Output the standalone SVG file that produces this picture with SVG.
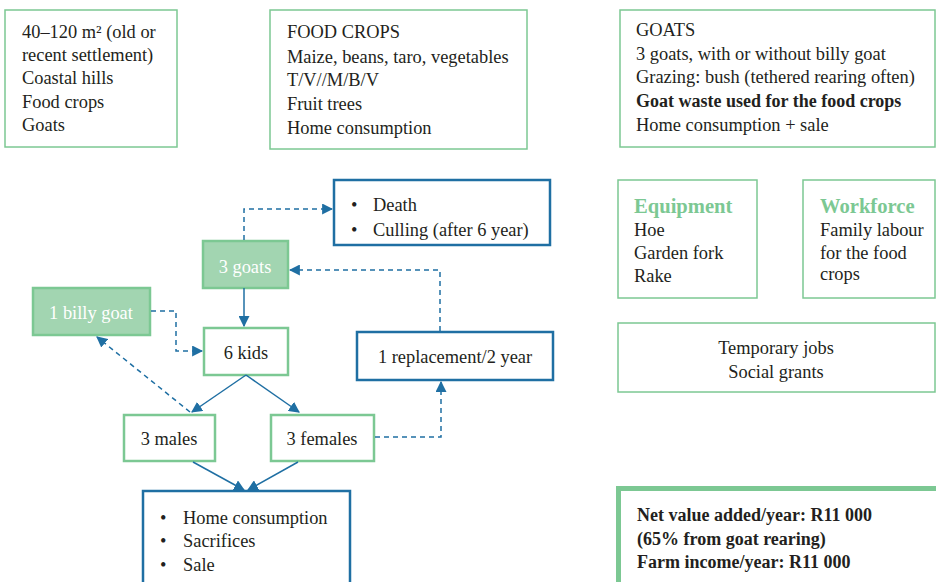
<svg xmlns="http://www.w3.org/2000/svg" width="936" height="582" viewBox="0 0 936 582">
<defs>
<style>
text{font-family:"Liberation Serif","Times New Roman",serif;font-size:18.4px;fill:#231f20}
.g{fill:#fff;stroke:#7cc893;stroke-width:1.5}
.gf{fill:#a2d5b1;stroke:#7cc893;stroke-width:2.5}
.gn{fill:#fff;stroke:#7cc893;stroke-width:2.5}
.b{fill:#fff;stroke:#1f6fa3;stroke-width:2.5}
.w{fill:#fff}
.c{text-anchor:middle}
.bd{font-weight:bold;font-size:18px}
.hd{font-weight:bold;fill:#7cc893;font-size:20.6px}
.s{fill:none;stroke:#1f6fa3;stroke-width:1.5}
.d{fill:none;stroke:#1f6fa3;stroke-width:1.5;stroke-dasharray:5 4}
</style>
<marker id="ah" viewBox="0 0 10 10" refX="9" refY="5" markerWidth="11" markerHeight="11" markerUnits="userSpaceOnUse" orient="auto"><path d="M0,0 L10,5 L0,10 z" fill="#1f6fa3"/></marker>
</defs>
<g id="n-context"><rect class="g" x="5" y="10" width="172" height="137"/>
<text x="22" y="38">40–120 m² (old or</text><text x="22" y="61">recent settlement)</text><text x="22" y="84">Coastal hills</text><text x="22" y="108">Food crops</text><text x="22" y="131">Goats</text></g>
<g id="n-foodcrops"><rect class="g" x="270" y="10" width="257" height="139"/>
<text x="287" y="38">FOOD CROPS</text><text x="287" y="63">Maize, beans, taro, vegetables</text><text x="287" y="86">T/V//M/B/V</text><text x="287" y="110">Fruit trees</text><text x="287" y="134">Home consumption</text></g>
<g id="n-goats"><rect class="g" x="620" y="10" width="315" height="137"/>
<text x="636" y="36">GOATS</text><text x="636" y="60">3 goats, with or without billy goat</text><text x="636" y="83">Grazing: bush (tethered rearing often)</text><text x="636" y="107" class="bd">Goat waste used for the food crops</text><text x="636" y="131">Home consumption + sale</text></g>
<g id="n-equipment"><rect class="g" x="618" y="180" width="139" height="118"/>
<text x="634" y="213" class="hd">Equipment</text><text x="634" y="236">Hoe</text><text x="634" y="259">Garden fork</text><text x="634" y="282">Rake</text></g>
<g id="n-workforce"><rect class="g" x="803" y="180" width="132" height="118"/>
<text x="820" y="213" class="hd">Workforce</text><text x="820" y="236">Family labour</text><text x="820" y="259">for the food</text><text x="820" y="280">crops</text></g>
<g id="n-jobs"><rect class="g" x="618" y="323" width="317" height="69"/>
<text x="776" y="354" class="c">Temporary jobs</text><text x="776" y="378" class="c">Social grants</text></g>
<g id="n-income"><path d="M618.5,582 V488.5 H936" fill="#fff" stroke="#7cc893" stroke-width="5"/>
<text x="637" y="521" class="bd">Net value added/year: R11 000</text><text x="637" y="545" class="bd">(65% from goat rearing)</text><text x="637" y="568" class="bd">Farm income/year: R11 000</text></g>
<g id="n-death"><rect class="b" x="334" y="180" width="216" height="65"/>
<text x="351" y="211">•</text><text x="373" y="211">Death</text><text x="351" y="236">•</text><text x="373" y="236">Culling (after 6 year)</text></g>
<g id="n-3goats"><rect class="gf" x="203" y="241" width="85" height="47"/>
<text x="245" y="273" class="c w">3 goats</text></g>
<g id="n-billy"><rect class="gf" x="33" y="288" width="117" height="47"/>
<text x="91" y="319" class="c w">1 billy goat</text></g>
<g id="n-kids"><rect class="gn" x="204" y="328" width="84" height="47"/>
<text x="246" y="359" class="c">6 kids</text></g>
<g id="n-replacement"><rect class="b" x="357" y="332" width="196" height="48"/>
<text x="455" y="363" class="c">1 replacement/2 year</text></g>
<g id="n-males"><rect class="gn" x="124" y="415" width="91" height="46"/>
<text x="169" y="445" class="c">3 males</text></g>
<g id="n-females"><rect class="gn" x="271" y="415" width="103" height="46"/>
<text x="322" y="445" class="c">3 females</text></g>
<g id="n-uses"><rect class="b" x="143" y="491" width="207" height="100"/>
<text x="160" y="524">•</text><text x="183" y="524">Home consumption</text><text x="160" y="547">•</text><text x="183" y="547">Sacrifices</text><text x="160" y="571">•</text><text x="183" y="571">Sale</text></g>
<g id="connectors">
<path class="d" d="M244,240 V209 H332" marker-end="url(#ah)"/>
<path class="s" d="M244,288 V326" marker-end="url(#ah)"/>
<path class="d" d="M151,311 H176 V351 H202" marker-end="url(#ah)"/>
<path class="d" d="M190,412 L97,337" marker-end="url(#ah)"/>
<path class="s" d="M246,375 L192,412" marker-end="url(#ah)"/>
<path class="s" d="M246,375 L299,412" marker-end="url(#ah)"/>
<path class="s" d="M193,462 L244,490" marker-end="url(#ah)"/>
<path class="s" d="M298,462 L248,490" marker-end="url(#ah)"/>
<path class="d" d="M375,437 H441 V382" marker-end="url(#ah)"/>
<path class="d" d="M440,331 V270 H290" marker-end="url(#ah)"/>
</g>
</svg>
